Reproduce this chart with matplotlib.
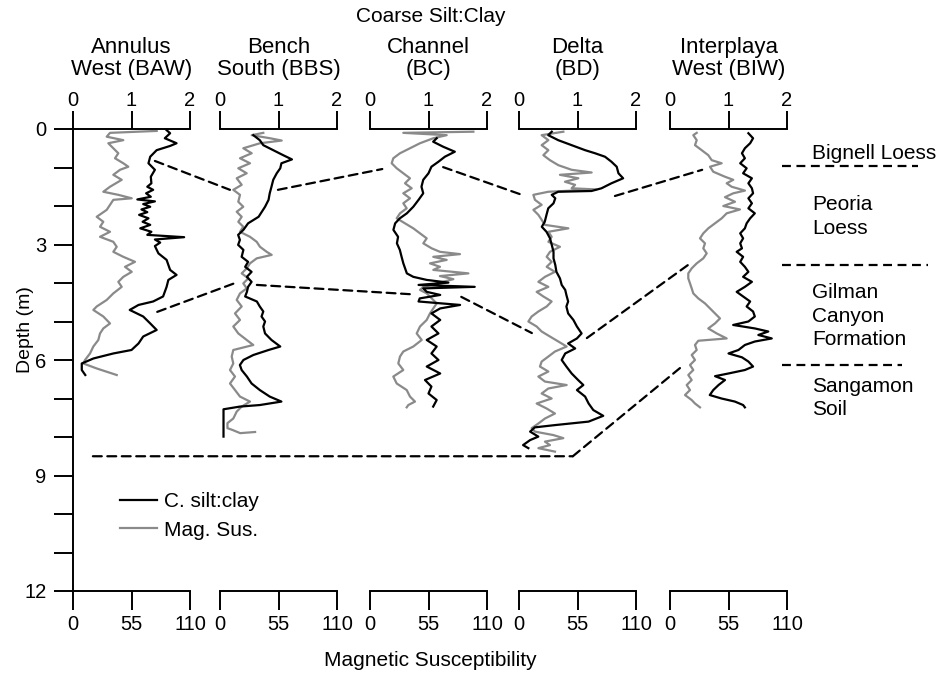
import matplotlib.pyplot as plt
from matplotlib.patches import ConnectionPatch
from matplotlib.ticker import MultipleLocator

plt.rcParams['font.family'] = ['Liberation Sans', 'DejaVu Sans']

sites = ['Annulus\nWest (BAW)', 'Bench\nSouth (BBS)', 'Channel\n(BC)',
         'Delta\n(BD)', 'Interplaya\nWest (BIW)']

# coarse silt:clay ratio vs depth (m)
baw_silt_depth = [0.03, 0.11, 0.24, 0.37, 0.44, 0.55, 0.72, 0.89, 1.06, 1.24,
                  1.41, 1.50, 1.58, 1.67, 1.76, 1.83, 1.88, 1.95, 2.02, 2.09,
                  2.16, 2.23, 2.32, 2.41, 2.49, 2.58, 2.67, 2.75, 2.81, 2.87,
                  2.95, 3.04, 3.23, 3.40, 3.66, 3.79, 3.92, 4.10, 4.35, 4.48,
                  4.57, 4.70, 4.87, 5.05, 5.22, 5.39, 5.57, 5.74, 5.83, 5.96,
                  6.09, 6.26, 6.39]
baw_silt = [1.60, 1.66, 1.57, 1.77, 1.66, 1.43, 1.32, 1.29, 1.40, 1.33,
            1.34, 1.27, 1.37, 1.25, 1.33, 1.10, 1.40, 1.20, 1.32, 1.17,
            1.27, 1.13, 1.29, 1.19, 1.32, 1.15, 1.34, 1.27, 1.90, 1.40,
            1.49, 1.40, 1.46, 1.60, 1.66, 1.77, 1.63, 1.60, 1.54, 1.37,
            1.12, 0.97, 1.20, 1.32, 1.43, 1.20, 1.12, 1.00, 0.69, 0.35,
            0.15, 0.15, 0.21]

bbs_silt_depth = [0.16, 0.29, 0.42, 0.55, 0.68, 0.79, 0.89, 1.02, 1.15, 1.32,
                  1.50, 1.67, 1.84, 2.02, 2.28, 2.45, 2.62, 2.75, 2.88, 3.01,
                  3.14, 3.32, 3.45, 3.58, 3.71, 3.84, 3.97, 4.10, 4.23, 4.35,
                  4.48, 4.61, 4.74, 4.87, 5.00, 5.13, 5.31, 5.48, 5.65, 5.74,
                  5.87, 6.00, 6.13, 6.26, 6.43, 6.61, 6.78, 6.95, 7.08, 7.17,
                  7.21, 7.28, 7.99]
bbs_silt = [0.57, 0.68, 0.74, 0.91, 1.08, 1.23, 1.05, 1.03, 0.97, 0.91,
            0.88, 0.85, 0.83, 0.77, 0.66, 0.48, 0.40, 0.31, 0.34, 0.31,
            0.40, 0.37, 0.48, 0.43, 0.54, 0.46, 0.54, 0.48, 0.46, 0.43,
            0.63, 0.68, 0.74, 0.71, 0.77, 0.74, 0.77, 0.88, 1.03, 0.83,
            0.57, 0.40, 0.34, 0.37, 0.46, 0.54, 0.68, 0.85, 1.05, 0.68,
            0.34, 0.06, 0.06]

bc_silt_depth = [0.24, 0.33, 0.46, 0.59, 0.72, 0.85, 0.98, 1.15, 1.32, 1.50,
                 1.67, 1.84, 2.02, 2.19, 2.32, 2.45, 2.62, 2.80, 2.97, 3.14,
                 3.32, 3.49, 3.62, 3.75, 3.84, 3.92, 3.99, 4.05, 4.10, 4.14,
                 4.23, 4.31, 4.40, 4.48, 4.57, 4.66, 4.79, 4.96, 5.13, 5.31,
                 5.48, 5.65, 5.83, 6.00, 6.17, 6.35, 6.52, 6.69, 6.87, 7.04,
                 7.21]
bc_silt = [1.14, 1.08, 1.25, 1.45, 1.28, 1.17, 1.05, 1.00, 0.91, 0.88,
           0.91, 0.83, 0.74, 0.63, 0.51, 0.43, 0.40, 0.48, 0.46, 0.51,
           0.54, 0.57, 0.60, 0.63, 0.74, 0.97, 1.34, 0.83, 1.79, 0.91,
           0.97, 1.20, 0.85, 0.83, 1.54, 1.20, 1.05, 1.20, 1.05, 1.17,
           0.97, 1.14, 1.05, 1.17, 0.97, 1.20, 0.94, 1.05, 1.00, 1.14,
           1.08]

bd_silt_depth = [0.07, 0.16, 0.29, 0.42, 0.55, 0.63, 0.72, 0.85, 0.98, 1.15,
                 1.28, 1.41, 1.54, 1.61, 1.63, 1.71, 1.80, 1.93, 2.06, 2.23,
                 2.41, 2.54, 2.67, 2.84, 3.01, 3.19, 3.36, 3.53, 3.71, 3.88,
                 4.05, 4.18, 4.31, 4.48, 4.61, 4.79, 4.96, 5.13, 5.31, 5.44,
                 5.57, 5.70, 5.83, 6.00, 6.17, 6.35, 6.52, 6.65, 6.78, 6.95,
                 7.13, 7.30, 7.45, 7.60, 7.69, 7.75, 7.86, 7.99, 8.08, 8.21,
                 8.29]
bd_silt = [0.56, 0.50, 0.67, 0.90, 1.13, 1.30, 1.47, 1.58, 1.67, 1.70,
           1.78, 1.58, 1.41, 1.24, 0.67, 0.56, 0.62, 0.59, 0.50, 0.47,
           0.44, 0.39, 0.47, 0.53, 0.56, 0.59, 0.59, 0.62, 0.64, 0.70,
           0.73, 0.79, 0.81, 0.84, 0.81, 0.84, 0.93, 0.99, 1.07, 0.99,
           0.84, 0.96, 0.79, 0.73, 0.81, 0.90, 1.01, 1.10, 0.99, 1.13,
           1.19, 1.27, 1.44, 1.19, 0.62, 0.27, 0.19, 0.33, 0.19, 0.07,
           0.16]

biw_silt_depth = [0.11, 0.24, 0.37, 0.50, 0.63, 0.76, 0.89, 1.02, 1.15, 1.28,
                  1.41, 1.54, 1.67, 1.80, 1.93, 2.06, 2.19, 2.32, 2.45, 2.58,
                  2.71, 2.84, 2.97, 3.10, 3.19, 3.32, 3.45, 3.58, 3.71, 3.84,
                  3.97, 4.10, 4.23, 4.35, 4.48, 4.61, 4.74, 4.87, 5.00, 5.09,
                  5.18, 5.26, 5.35, 5.44, 5.52, 5.61, 5.74, 5.83, 5.93, 6.04,
                  6.17, 6.26, 6.35, 6.42, 6.52, 6.65, 6.78, 6.91, 7.00, 7.08,
                  7.17, 7.23]
biw_silt = [1.34, 1.42, 1.37, 1.28, 1.23, 1.28, 1.20, 1.31, 1.25, 1.40,
            1.34, 1.40, 1.42, 1.34, 1.40, 1.34, 1.45, 1.37, 1.31, 1.28,
            1.20, 1.25, 1.20, 1.23, 1.14, 1.25, 1.20, 1.28, 1.34, 1.25,
            1.40, 1.28, 1.14, 1.25, 1.37, 1.31, 1.42, 1.45, 1.34, 1.08,
            1.45, 1.68, 1.51, 1.74, 1.45, 1.28, 1.17, 1.00, 1.23, 1.34,
            1.42, 1.28, 1.00, 0.77, 0.94, 0.83, 0.74, 0.68, 0.88, 1.11,
            1.25, 1.28]

# magnetic susceptibility vs depth (m)
baw_ms_depth = [0.05, 0.10, 0.20, 0.29, 0.37, 0.50, 0.63, 0.76, 0.89, 0.98,
                1.06, 1.19, 1.32, 1.50, 1.63, 1.71, 1.80, 1.84, 1.97, 2.10,
                2.28, 2.41, 2.54, 2.67, 2.80, 2.93, 3.06, 3.19, 3.32, 3.45,
                3.58, 3.71, 3.84, 3.97, 4.10, 4.27, 4.44, 4.61, 4.70, 4.87,
                5.05, 5.18, 5.31, 5.48, 5.65, 5.83, 6.00, 6.09, 6.22, 6.39]
baw_ms = [78.7, 34.8, 31.7, 47.3, 33.2, 37.9, 42.6, 39.5, 47.3, 52.0,
          44.2, 37.9, 45.8, 34.8, 28.5, 42.6, 55.2, 37.9, 34.8, 31.7,
          22.3, 28.5, 25.4, 34.8, 25.4, 37.9, 41.1, 37.9, 47.3, 58.3,
          48.9, 55.2, 47.3, 42.6, 45.8, 37.9, 31.7, 22.3, 19.1, 28.5,
          34.8, 28.5, 25.4, 23.8, 19.1, 16.0, 11.3, 9.7, 22.3, 41.1]

bbs_ms_depth = [0.10, 0.16, 0.24, 0.30, 0.37, 0.50, 0.63, 0.76, 0.89, 1.02,
                1.15, 1.28, 1.45, 1.58, 1.71, 1.89, 2.02, 2.15, 2.28, 2.41,
                2.54, 2.67, 2.80, 2.93, 3.06, 3.19, 3.27, 3.36, 3.49, 3.62,
                3.75, 3.88, 4.01, 4.14, 4.27, 4.44, 4.61, 4.79, 4.96, 5.13,
                5.31, 5.48, 5.61, 5.74, 5.91, 6.09, 6.26, 6.43, 6.61, 6.78,
                6.95, 7.08, 7.21, 7.34, 7.52, 7.64, 7.77, 7.82, 7.90, 7.87]
bbs_ms = [40.7, 29.8, 47.0, 58.0, 37.6, 21.9, 29.8, 18.8, 28.2, 17.2,
          25.1, 15.7, 20.4, 12.5, 18.8, 17.2, 21.9, 15.7, 20.4, 17.2,
          21.9, 18.8, 28.2, 34.5, 37.6, 43.9, 48.6, 34.5, 28.2, 25.1,
          20.4, 26.6, 21.9, 25.1, 18.8, 15.7, 20.4, 14.1, 18.8, 12.5,
          17.2, 25.1, 31.3, 12.5, 11.0, 12.5, 9.4, 14.1, 9.4, 14.1,
          18.8, 28.2, 20.4, 15.7, 12.5, 7.0, 7.0, 12.0, 19.0, 33.0]

bc_ms_depth = [0.07, 0.10, 0.16, 0.24, 0.37, 0.50, 0.63, 0.76, 0.89, 1.02,
               1.15, 1.28, 1.41, 1.54, 1.67, 1.80, 1.93, 2.06, 2.19, 2.32,
               2.45, 2.58, 2.71, 2.84, 2.97, 3.10, 3.19, 3.25, 3.32, 3.40,
               3.49, 3.58, 3.66, 3.75, 3.82, 3.90, 4.01, 4.10, 4.18, 4.27,
               4.40, 4.53, 4.66, 4.79, 4.96, 5.13, 5.31, 5.48, 5.65, 5.78,
               5.91, 6.09, 6.26, 6.43, 6.61, 6.78, 6.95, 7.08, 7.17, 7.23]
bc_ms = [97.2, 31.3, 72.1, 59.5, 47.0, 37.6, 28.2, 21.9, 20.4, 25.1,
         31.3, 37.6, 32.9, 39.2, 31.3, 37.6, 31.3, 34.5, 28.2, 25.1,
         32.9, 40.7, 47.0, 53.3, 50.1, 58.0, 65.8, 84.6, 59.5, 72.1,
         56.4, 65.8, 59.5, 92.5, 65.8, 78.4, 62.7, 50.1, 47.0, 53.3,
         58.0, 62.7, 59.5, 56.4, 53.3, 47.0, 43.9, 48.6, 40.7, 31.3,
         28.2, 26.6, 31.3, 21.9, 25.1, 34.5, 37.6, 42.3, 36.0, 34.5]

bd_ms_depth = [0.07, 0.16, 0.29, 0.42, 0.55, 0.68, 0.81, 0.94, 1.06, 1.13,
               1.19, 1.28, 1.37, 1.45, 1.54, 1.57, 1.63, 1.71, 1.84, 1.97,
               2.10, 2.23, 2.36, 2.49, 2.58, 2.67, 2.80, 2.93, 3.06, 3.19,
               3.32, 3.45, 3.58, 3.71, 3.84, 3.97, 4.10, 4.23, 4.35, 4.48,
               4.61, 4.74, 4.87, 5.00, 5.13, 5.26, 5.39, 5.52, 5.65, 5.78,
               5.91, 6.04, 6.17, 6.30, 6.43, 6.56, 6.65, 6.74, 6.87, 7.00,
               7.13, 7.26, 7.39, 7.52, 7.65, 7.77, 7.86, 7.95, 8.03, 8.12,
               8.21, 8.29, 8.38]
bd_ms = [41.7, 21.3, 27.6, 21.3, 27.6, 22.9, 29.1, 37.0, 49.5, 68.3,
         38.5, 55.8, 43.2, 52.7, 49.5, 73.0, 27.6, 13.5, 15.0, 21.3,
         13.5, 18.2, 21.3, 24.4, 46.4, 27.6, 30.7, 27.6, 38.5, 29.1,
         26.0, 30.7, 26.0, 33.8, 24.4, 18.2, 27.6, 16.6, 22.9, 30.7,
         26.0, 18.2, 11.9, 8.8, 16.6, 21.3, 29.1, 37.0, 44.8, 33.8,
         27.6, 21.3, 19.7, 27.6, 18.2, 24.4, 44.8, 27.6, 21.3, 30.7,
         16.6, 26.0, 33.8, 24.4, 18.2, 11.9, 15.0, 32.3, 41.7, 24.4,
         29.1, 18.2, 33.8]

biw_ms_depth = [0.10, 0.16, 0.29, 0.42, 0.55, 0.68, 0.81, 0.89, 0.98, 1.11,
                1.24, 1.32, 1.41, 1.50, 1.60, 1.67, 1.77, 1.89, 2.00, 2.09,
                2.19, 2.32, 2.45, 2.58, 2.71, 2.84, 2.97, 3.10, 3.23, 3.36,
                3.49, 3.62, 3.75, 3.88, 4.01, 4.14, 4.27, 4.40, 4.53, 4.66,
                4.79, 4.92, 5.05, 5.18, 5.31, 5.44, 5.50, 5.61, 5.74, 5.87,
                6.00, 6.13, 6.26, 6.39, 6.52, 6.65, 6.78, 6.91, 7.04, 7.13,
                7.23]
biw_ms = [25.1, 21.9, 25.1, 23.5, 29.8, 36.0, 39.2, 48.6, 37.6, 40.7,
          51.7, 59.5, 53.3, 58.0, 70.5, 59.5, 51.7, 61.1, 50.1, 65.8,
          53.3, 48.6, 42.3, 36.0, 31.3, 28.2, 32.9, 31.3, 34.5, 31.3,
          25.1, 20.4, 17.2, 17.2, 18.8, 20.4, 21.9, 26.6, 32.9, 37.6,
          42.3, 47.0, 42.3, 36.0, 43.9, 53.3, 26.6, 23.5, 25.1, 20.4,
          23.5, 18.8, 21.9, 17.2, 20.4, 15.7, 18.8, 14.1, 20.4, 23.5,
          28.2]

silt_depths = [baw_silt_depth, bbs_silt_depth, bc_silt_depth, bd_silt_depth, biw_silt_depth]
silt_vals = [baw_silt, bbs_silt, bc_silt, bd_silt, biw_silt]
ms_depths = [baw_ms_depth, bbs_ms_depth, bc_ms_depth, bd_ms_depth, biw_ms_depth]
ms_vals = [baw_ms, bbs_ms, bc_ms, bd_ms, biw_ms]

# correlation lines: (panel A, silt:clay A, depth A, panel B, silt:clay B, depth B)
bignell_base = [(0, 1.40, 0.83, 1, 0.17, 1.58), (1, 0.99, 1.58, 2, 0.21, 1.04),
                (2, 1.25, 0.99, 3, 0.05, 1.71), (3, 1.64, 1.74, 4, 0.55, 1.06)]
peoria_base = [(0, 1.44, 4.75, 1, 0.26, 4.00), (1, 0.63, 4.05, 2, 0.68, 4.29),
               (2, 1.56, 4.36, 3, 0.22, 5.30), (3, 1.16, 5.43, 4, 0.31, 3.53)]
gilman_base = [(0, 0.34, 8.50, 3, 0.92, 8.50), (3, 0.92, 8.50, 4, 0.17, 6.21)]

# unit boundaries at the right (silt:clay start, end, depth) on the last panel
unit_bounds = [(1.91, 4.24, 0.96), (1.91, 4.41, 3.53), (1.91, 3.97, 6.13)]
unit_names = ['Bignell Loess', 'Peoria\nLoess', 'Gilman\nCanyon\nFormation', 'Sangamon\nSoil']
unit_label_depth = [0.64, 2.27, 4.86, 6.99]

W, H = 940, 676
lefts = [73, 220, 370, 519, 670]
pw = 117
ptop, pbot = 129, 591
gray = '#8a8a8a'
lw_ax = 1.4
dash = (0, (4, 2.5))

fig = plt.figure(figsize=(W / 100, H / 100), dpi=100)

silt_axes = []
for i in range(5):
    ax = fig.add_axes([lefts[i] / W, 1 - pbot / H, pw / W, (pbot - ptop) / H])
    ax.patch.set_visible(False)
    ax.set_xlim(0, 110)
    ax.set_ylim(12, 0)
    l_ms, = ax.plot(ms_vals[i], ms_depths[i], color=gray, lw=1.6)
    ax.set_xticks([0, 55, 110])
    ax.tick_params(axis='x', direction='out', length=13.5, width=lw_ax, pad=4, labelsize=14.5)
    for s in ['top', 'right']:
        ax.spines[s].set_visible(False)
    ax.spines['bottom'].set_linewidth(lw_ax)
    if i == 0:
        ax.spines['left'].set_linewidth(lw_ax)
        ax.set_yticks([0, 3, 6, 9, 12])
        ax.yaxis.set_minor_locator(MultipleLocator(1))
        ax.tick_params(axis='y', which='both', direction='out', length=14, width=lw_ax, pad=5, labelsize=14.5)
        ax0, ms_line = ax, l_ms
    else:
        ax.spines['left'].set_visible(False)
        ax.tick_params(axis='y', which='both', left=False, labelleft=False)

    ax2 = ax.twiny()
    ax2.set_xlim(0, 2)
    l_silt, = ax2.plot(silt_vals[i], silt_depths[i], color='black', lw=1.6)
    ax2.set_xticks([0, 1, 2])
    ax2.tick_params(axis='x', direction='out', length=13, width=lw_ax, pad=1, labelsize=14.5)
    for s in ['bottom', 'left', 'right']:
        ax2.spines[s].set_visible(False)
    ax2.spines['top'].set_linewidth(lw_ax)
    ax2.text(0.5, 1.152, sites[i], transform=ax2.transAxes, ha='center', va='center',
             fontsize=16, linespacing=1.05)
    if i == 0:
        silt_line = l_silt
    silt_axes.append(ax2)

for a, xa, da, b, xb, db in bignell_base + peoria_base + gilman_base:
    con = ConnectionPatch(xyA=(xa, da), coordsA=silt_axes[a].transData,
                          xyB=(xb, db), coordsB=silt_axes[b].transData,
                          color='black', lw=1.6, linestyle=dash)
    fig.add_artist(con)

last = silt_axes[-1]
for x0, x1, d in unit_bounds:
    last.plot([x0, x1], [d, d], color='black', lw=1.6, linestyle=dash, clip_on=False)
for name, d in zip(unit_names, unit_label_depth):
    last.text(2.43, d, name, ha='left', va='center', fontsize=15, linespacing=1.3)

leg = ax0.legend([silt_line, ms_line], ['C. silt:clay', 'Mag. Sus.'], loc='upper left',
                 bbox_to_anchor=(0.40, 0.214), frameon=False, fontsize=15, handlelength=1.8,
                 handletextpad=0.3, labelspacing=0.45, borderpad=0, borderaxespad=0)
leg.set_zorder(10)

fig.text(431 / W, 1 - 17 / H, 'Coarse Silt:Clay', ha='center', va='center', fontsize=15)
fig.text(430 / W, 1 - 661 / H, 'Magnetic Susceptibility', ha='center', va='center', fontsize=15)
fig.text(25 / W, 1 - 330 / H, 'Depth (m)', ha='center', va='center', rotation=90, fontsize=14)

fig.savefig('out.png', dpi=100)
